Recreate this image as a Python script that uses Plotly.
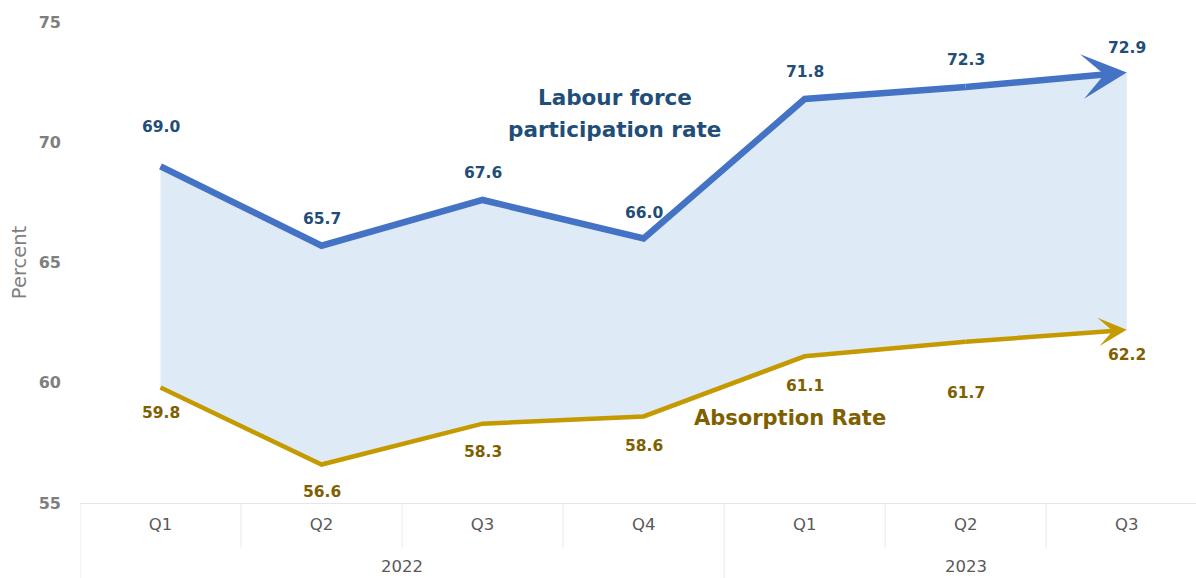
import plotly.graph_objects as go

# Quarterly labour market rates (percent)
quarters = ["Q1", "Q2", "Q3", "Q4", "Q1", "Q2", "Q3"]
years = ["2022", "2023"]
year_centres = [1.5, 5.0]
lfpr = [69.0, 65.7, 67.6, 66.0, 71.8, 72.3, 72.9]
absorption = [59.8, 56.6, 58.3, 58.6, 61.1, 61.7, 62.2]

# label offsets in pixels (negative = above the point)
lfpr_shift = [-39, -27, -27, -25, -27, -27, -25]
abs_shift = [25, 27, 28, 30, 30, 51, 25]

BLUE = "#4472C4"
BLUE_DARK = "#1F4E79"
GOLD = "#C49A00"
GOLD_DARK = "#7F6000"
FILL = "#DEEAF6"
FONT = "DejaVu Sans"

x = list(range(len(quarters)))
n = len(x)

fig = go.Figure()

# shaded band between the two rates
fig.add_trace(go.Scatter(x=x, y=absorption, mode="lines", line=dict(width=0),
                         hoverinfo="skip", showlegend=False))
fig.add_trace(go.Scatter(x=x, y=lfpr, mode="lines", line=dict(width=0),
                         fill="tonexty", fillcolor=FILL,
                         hoverinfo="skip", showlegend=False))

# lines up to the penultimate quarter; the final segment is an arrow
fig.add_trace(go.Scatter(x=x[:-1], y=absorption[:-1], mode="lines",
                         line=dict(color=GOLD, width=4.5), showlegend=False))
fig.add_trace(go.Scatter(x=x[:-1], y=lfpr[:-1], mode="lines",
                         line=dict(color=BLUE, width=6.5), showlegend=False))

annotations = []
for series, colour, width, size in [(absorption, GOLD, 4.5, 1.05), (lfpr, BLUE, 6.5, 1.15)]:
    annotations.append(dict(
        x=x[-1], y=series[-1], ax=x[-2], ay=series[-2],
        xref="x", yref="y", axref="x", ayref="y",
        showarrow=True, arrowhead=3, arrowsize=size, arrowwidth=width,
        arrowcolor=colour, text="", standoff=0, borderpad=0, borderwidth=0,
        font=dict(size=1),
    ))

for i in range(n):
    annotations.append(dict(
        x=x[i], y=lfpr[i], text=f"{lfpr[i]:.1f}", showarrow=False,
        yshift=-lfpr_shift[i], font=dict(family=FONT, size=15.5, color=BLUE_DARK, weight="bold"),
    ))
    annotations.append(dict(
        x=x[i], y=absorption[i], text=f"{absorption[i]:.1f}", showarrow=False,
        yshift=-abs_shift[i], font=dict(family=FONT, size=15.5, color=GOLD_DARK, weight="bold"),
    ))

# series names
for text, ypos in [("Labour force", 71.88), ("participation rate", 70.51)]:
    annotations.append(dict(
        x=2.82, y=ypos, text=text, showarrow=False,
        font=dict(family=FONT, size=21.5, color=BLUE_DARK, weight="bold"),
    ))
annotations.append(dict(
    x=3.91, y=58.53, text="Absorption Rate", showarrow=False,
    font=dict(family=FONT, size=21, color=GOLD_DARK, weight="bold"),
))

# year labels under the quarter labels
for yr, xc in zip(years, year_centres):
    annotations.append(dict(
        x=xc, y=-0.133, xref="x", yref="paper", text=yr, showarrow=False,
        yanchor="middle", font=dict(family=FONT, size=16.5, color="#595959"),
    ))

# category dividers below the axis
shapes = []
year_bounds = [-0.5, 3.5]
for b in [i - 0.5 for i in range(n + 1)]:
    depth = -0.156 if b in year_bounds else -0.094
    shapes.append(dict(type="line", xref="x", yref="paper", x0=b, x1=b, y0=0, y1=depth,
                       line=dict(color="#EDEDED", width=1.2), layer="below"))

fig.update_layout(
    width=1196, height=578,
    margin=dict(l=80, r=0, t=22, b=75),
    plot_bgcolor="white", paper_bgcolor="white",
    annotations=annotations, shapes=shapes,
    xaxis=dict(
        range=[-0.5, 6.43], tickmode="array", tickvals=x, ticktext=quarters,
        showgrid=False, zeroline=False, showline=True, linecolor="#E6E6E6", linewidth=1.2,
        ticks="", ticklabelstandoff=6,
        tickfont=dict(family=FONT, size=16.5, color="#595959"),
    ),
    yaxis=dict(
        range=[55, 75], tickmode="array", tickvals=[55, 60, 65, 70, 75],
        showgrid=False, zeroline=False, showline=False, ticks="",
        ticklabelstandoff=18,
        tickfont=dict(family=FONT, size=16, color="#7F7F7F", weight="bold"),
        title=dict(text="Percent", standoff=6,
                   font=dict(family=FONT, size=19.5, color="#7F7F7F")),
    ),
)

fig.write_html("out.html")
